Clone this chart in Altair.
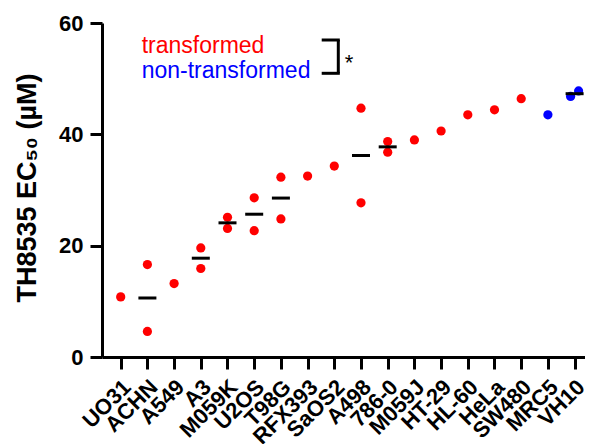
import json
import altair as alt
import pandas as pd

# ---- data ----
cell_lines = ["UO31", "ACHN", "A549", "A3", "M059K", "U2OS", "T98G", "RFX393", "SaOS2",
              "A498", "786-0", "M059J", "HT-29", "HL-60", "HeLa", "SW480", "MRC5", "VH10"]
groups = ["transformed"] * 16 + ["non-transformed"] * 2
rep1 = [10.8, 16.6, 13.2, 19.6, 25.1, 28.6, 32.3, 32.5, 34.3,
        44.7, 38.7, 39.0, 40.6, 43.5, 44.4, 46.4, 43.5, 46.8]
rep2 = [None, 4.6, None, 15.9, 23.1, 22.7, 24.8, None, None,
        27.7, 36.8, None, None, None, None, None, None, 47.8]
legend_labels = ["transformed", "non-transformed"]
y_ticks = [0, 20, 40, 60]

RED = "#ff0000"
BLUE = "#0000ff"
FONT = "Liberation Sans"
# horizontal spread of overlapping replicates (style only, in category units)
SPREAD = {"VH10": (-0.15, 0.15)}

rows = []
for i, (cl, g, a, b) in enumerate(zip(cell_lines, groups, rep1, rep2)):
    for r, v in ((0, a), (1, b)):
        if v is None:
            continue
        off = SPREAD.get(cl, (0, 0))[r]
        rows.append({"line": cl, "group": g, "rep": r, "value": v,
                     "idx": i, "xpos": i + off})
df = pd.DataFrame(rows)

W, H = 483, 334
STEP = 26.7
LEFT = 18.7 / STEP
xscale = alt.Scale(domain=[-LEFT, -LEFT + W / STEP], nice=False, zero=False)
yscale = alt.Scale(domain=[0, 60], nice=False)
label_expr = "%s[round(datum.value)]" % json.dumps(cell_lines)

xaxis = alt.Axis(values=list(range(len(cell_lines))), labelExpr=label_expr, title=None,
                 labelAngle=-45, labelOverlap=False, labelBound=False, labelFlush=False,
                 tickSize=12, labelPadding=7, labelOffset=-1, labelFontSize=22, grid=False)
yaxis = alt.Axis(values=y_ticks, title="TH8535 EC₅₀ (µM)", tickSize=12, labelPadding=7,
                 labelFontSize=22,
                 grid=False, titleAngle=270, titleX=-67, titleY=164.5,
                 titleAlign="center", titleBaseline="alphabetic",
                 titleFontSize=27, titleFontWeight="bold")

base = alt.Chart(df)

points = base.mark_circle(size=85, opacity=1).encode(
    x=alt.X("xpos:Q", scale=xscale, axis=xaxis),
    y=alt.Y("value:Q", scale=yscale, axis=yaxis),
    color=alt.Color("group:N", scale=alt.Scale(domain=legend_labels, range=[RED, BLUE]),
                    legend=None),
)

means = base.transform_joinaggregate(
    n="count()", groupby=["line"]
).transform_filter("datum.n > 1").transform_aggregate(
    mean="mean(value)", groupby=["line", "idx"]
).mark_tick(orient="horizontal", size=18, thickness=3, color="black", opacity=1).encode(
    x=alt.X("idx:Q", scale=xscale, axis=xaxis),
    y=alt.Y("mean:Q", scale=yscale, axis=yaxis),
)

one = pd.DataFrame({"k": [0]})
leg1 = alt.Chart(one).mark_text(align="left", baseline="alphabetic", font=FONT,
                                fontSize=23, color=RED).encode(
    x=alt.value(39.7), y=alt.value(29.7), text=alt.value(legend_labels[0]))
leg2 = alt.Chart(one).mark_text(align="left", baseline="alphabetic", font=FONT,
                                fontSize=23, color=BLUE).encode(
    x=alt.value(39.7), y=alt.value(55), text=alt.value(legend_labels[1]))

br_v = alt.Chart(one).mark_rule(color="black", strokeWidth=3).encode(
    x=alt.value(236.3), y=alt.value(17), y2=alt.value(50.3))
br_t = alt.Chart(one).mark_rule(color="black", strokeWidth=3).encode(
    x=alt.value(219.7), x2=alt.value(237.8), y=alt.value(17))
br_b = alt.Chart(one).mark_rule(color="black", strokeWidth=3).encode(
    x=alt.value(219.7), x2=alt.value(237.8), y=alt.value(50.3))
star = alt.Chart(one).mark_text(align="center", baseline="alphabetic", font=FONT,
                                fontSize=22, color="black").encode(
    x=alt.value(247), y=alt.value(46.5), text=alt.value("*"))

chart = alt.layer(points, means, leg1, leg2, br_v, br_t, br_b, star).properties(
    width=W, height=H,
    autosize=alt.AutoSizeParams(type="none"),
    padding={"left": 94, "top": 15, "right": 0, "bottom": 95},
).configure_view(stroke=None).configure_axis(
    domainColor="black", domainWidth=3, tickColor="black", tickWidth=3,
    labelColor="black", labelFont=FONT, labelFontWeight="bold", labelFontSize=21,
    titleFont=FONT, titleColor="black",
)

chart.save("out.html", embed_options={"renderer": "svg", "actions": False})
